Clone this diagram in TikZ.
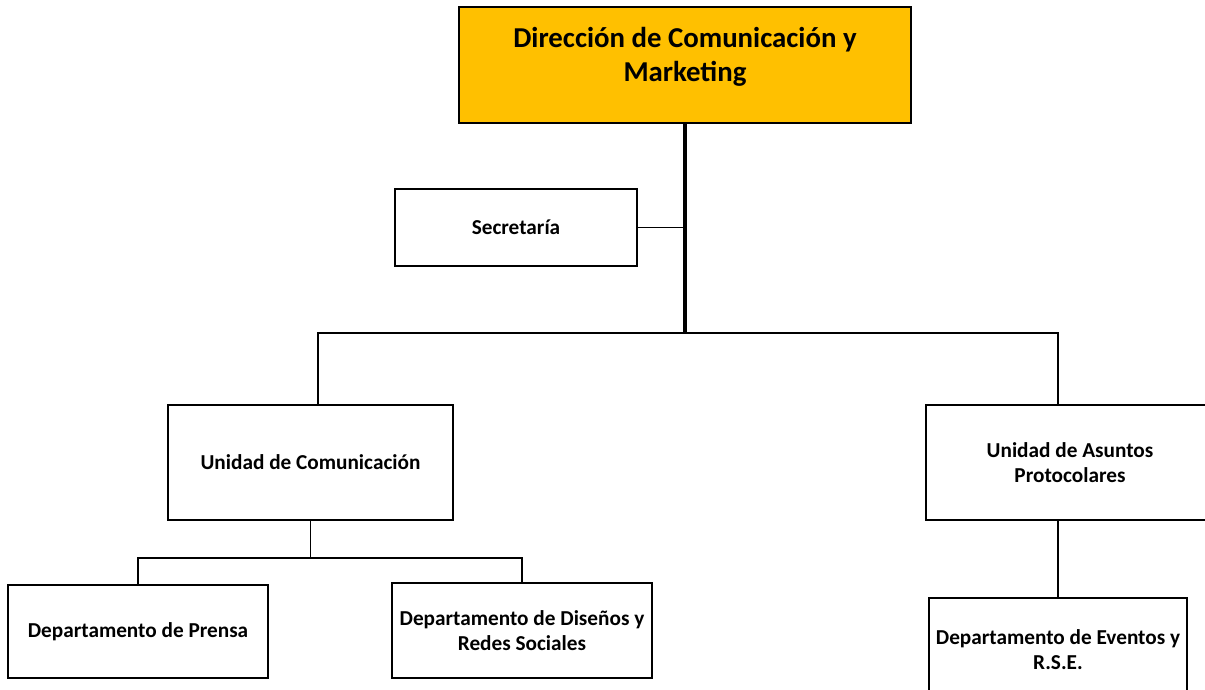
\documentclass[tikz,border=0pt]{standalone}
\usepackage{fontspec}
\setmainfont{Carlito}
\usepackage{tikz}
\usetikzlibrary{positioning}
\definecolor{headcolor}{RGB}{255,192,0}

\begin{document}
\begin{tikzpicture}[
    x=0.02cm, y=-0.02cm,
    unit/.style={rectangle, draw, line width=1.1pt, align=center, font=\fontsize{12.1}{14.2}\selectfont\bfseries},
    headbox/.style={rectangle, draw, line width=1.1pt, fill=headcolor, minimum width=9.04cm, minimum height=2.32cm},
    link/.style={line width=0.9pt},
    trunk/.style={line width=1.9pt}
]
    \useasboundingbox (0,0) rectangle (1205,690);
    \clip (0,0) rectangle (1205,690);

    % Boxes
    \node[headbox] (dir) at (685,65) {};
    \node[align=center, font=\fontsize{16.4}{19.5}\selectfont\bfseries] (dirtext) at (685,57) {Dirección de Comunicación y\\Marketing};
    \node[unit, minimum width=4.84cm, minimum height=1.54cm] (sec) at (516,227.5) {Secretaría};
    \node[unit, minimum width=5.7cm, minimum height=2.3cm] (ucom) at (310.5,462.5) {Unidad de Comunicación};
    \node[unit, minimum width=5.76cm, minimum height=2.3cm] (uasp) at (1070,462.5) {Unidad de Asuntos\\Protocolares};
    \node[unit, minimum width=5.2cm, minimum height=1.86cm] (prensa) at (138,631.5) {Departamento de Prensa};
    \node[unit, minimum width=5.2cm, minimum height=1.9cm] (disenos) at (522,630.5) {Departamento de Diseños y\\Redes Sociales};
    \node[unit, minimum width=5.16cm, minimum height=2.08cm] (eventos) at (1058,650) {Departamento de Eventos y\\R.S.E.};

    % Connectors
    \coordinate (bus) at (685,333);
    \coordinate (cbus) at (311,558);
    \draw[trunk] (dir.south -| bus) -- (bus);
    \draw[link] (sec.east) -- (sec.east -| bus);
    \draw[link] ([xshift=0.15cm]ucom.north) |- (eventos.north |- bus) -- (eventos.north |- uasp.north);
    \draw[link] (ucom.south) -- (ucom.south |- cbus);
    \draw[link] (prensa.north) |- (cbus) -| (disenos.north);
    \draw[link] (eventos.north |- uasp.south) -- (eventos.north);
\end{tikzpicture}
\end{document}
